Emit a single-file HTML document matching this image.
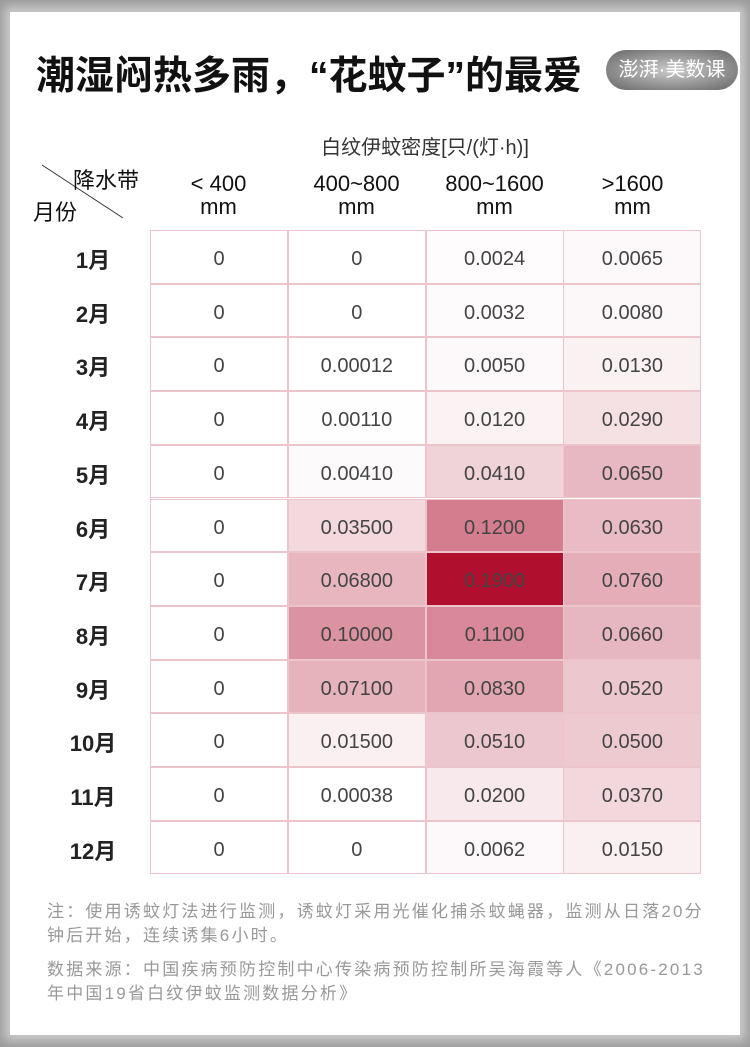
<!DOCTYPE html>
<html><head><meta charset="utf-8"><style>
body{margin:0;width:750px;height:1047px;background:#9a9a9a;font-family:"Liberation Sans","Noto Sans CJK SC",sans-serif;position:relative;overflow:hidden}
.panel{position:absolute;left:10px;top:12px;width:730px;height:1023px;background:#fff;box-shadow:0 0 10px 6px #ccc}
.abs{position:absolute}
.title{left:36px;top:45px;font-size:39px;font-weight:bold;color:#111;white-space:nowrap}
.logo{left:606px;top:50px;width:132px;height:40px;border-radius:20px;background:radial-gradient(#ccc,#666);color:#fff;font-size:20px;line-height:40px;text-align:center}
.hdr{font-size:22px;color:#111;text-align:center;line-height:23px}
.c{position:absolute;width:138px;height:53.7px;box-sizing:border-box;border:1px solid #ecc4cc;text-align:center;font-size:20px;color:#444;line-height:56px}
.rl{position:absolute;left:60px;width:66px;text-align:center;font-size:22px;font-weight:bold;color:#222}
.note{left:47px;font-size:17px;letter-spacing:2.2px;color:#999;line-height:24px;width:700px;white-space:nowrap}
</style></head><body>
<div class="panel"></div>
<div class="abs title">潮湿闷热多雨，“花蚊子”的最爱</div>
<div class="abs logo">澎湃·美数课</div>
<div class="abs" style="left:0;width:850px;top:131px;text-align:center;font-size:20px;color:#333">白纹伊蚊密度[只/(灯·h)]</div>
<svg class="abs" style="left:0;top:0" width="750" height="240"><line x1="42" y1="165" x2="123" y2="218" stroke="#333" stroke-width="1"/></svg>
<div class="abs" style="left:73px;top:163px;font-size:22px;color:#111">降水带</div>
<div class="abs" style="left:33px;top:195px;font-size:22px;color:#111">月份</div>
<div class="abs hdr" style="left:150px;width:137px;top:172px">&lt; 400<br>mm</div>
<div class="abs hdr" style="left:288px;width:137px;top:172px">400~800<br>mm</div>
<div class="abs hdr" style="left:426px;width:137px;top:172px">800~1600<br>mm</div>
<div class="abs hdr" style="left:564px;width:137px;top:172px">&gt;1600<br>mm</div>
<div id="t"></div>
<div class="abs note" style="top:900px">注：使用诱蚊灯法进行监测，诱蚊灯采用光催化捕杀蚊蝇器，监测从日落20分<br>钟后开始，连续诱集6小时。</div>
<div class="abs note" style="top:958px">数据来源：中国疾病预防控制中心传染病预防控制所吴海霞等人《2006-2013<br>年中国19省白纹伊蚊监测数据分析》</div>
<script>
var d=[["0","0","0.0024","0.0065"],["0","0","0.0032","0.0080"],["0","0.00012","0.0050","0.0130"],["0","0.00110","0.0120","0.0290"],["0","0.00410","0.0410","0.0650"],["0","0.03500","0.1200","0.0630"],["0","0.06800","0.1900","0.0760"],["0","0.10000","0.1100","0.0660"],["0","0.07100","0.0830","0.0520"],["0","0.01500","0.0510","0.0500"],["0","0.00038","0.0200","0.0370"],["0","0","0.0062","0.0150"]];
var h="";
d.forEach(function(row,i){var y=230+i*53.7;row.forEach(function(v,j){var n=parseFloat(v),a=n>=0.19?1:Math.min(1,n*4.5);h+='<div class="c" style="left:'+(150+j*137.8)+'px;top:'+y+'px;background:rgba(176,15,46,'+a+')">'+v+"</div>";});
h+='<div class="rl" style="top:'+(y+13)+'px">'+(i+1)+'月</div>';});
document.getElementById("t").innerHTML=h;
</script>
</body></html>
